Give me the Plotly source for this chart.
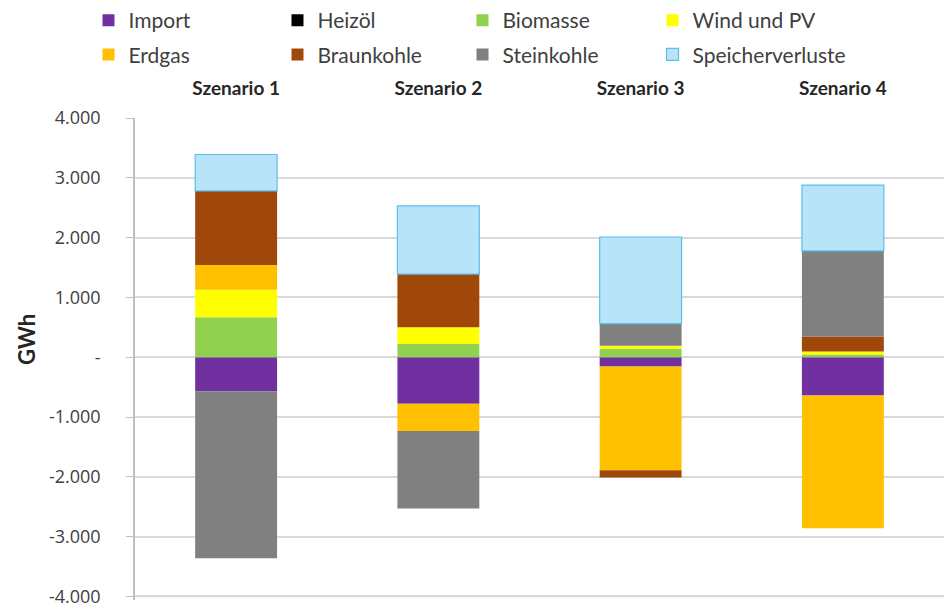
import plotly.graph_objects as go

scenarios = ["Szenario 1", "Szenario 2", "Szenario 3", "Szenario 4"]

import_vals = [-570, -780, -155, -640]
heizoel_vals = [0, 0, 0, 0]
biomasse_vals = [670, 220, 140, 45]
wind_pv_vals = [460, 280, 50, 50]
erdgas_vals = [410, -455, -1735, -2220]
braunkohle_vals = [1240, 890, -120, 250]
steinkohle_vals = [-2790, -1295, 370, 1433]
speicher_vals = [610, 1140, 1450, 1100]

y_ticks = [4000, 3000, 2000, 1000, 0, -1000, -2000, -3000, -4000]
y_tick_labels = ["4.000", "3.000", "2.000", "1.000", "-", "-1.000", "-2.000", "-3.000", "-4.000"]

# (name, values, fill, outline, legend column)
series = [
    ("Import", import_vals, "#7030A0", "#7030A0", "legend"),
    ("Heizöl", heizoel_vals, "#000000", "#000000", "legend2"),
    ("Biomasse", biomasse_vals, "#92D050", "#92D050", "legend3"),
    ("Wind und PV", wind_pv_vals, "#FFFF00", "#FFFF00", "legend4"),
    ("Erdgas", erdgas_vals, "#FFC000", "#FFC000", "legend"),
    ("Braunkohle", braunkohle_vals, "#A0480A", "#A0480A", "legend2"),
    ("Steinkohle", steinkohle_vals, "#808080", "#808080", "legend3"),
    ("Speicherverluste", speicher_vals, "#B7E4F8", "#5BC0E8", "legend4"),
]

fig = go.Figure()
for name, vals, color, line, leg in series:
    fig.add_trace(go.Bar(
        x=scenarios, y=vals, name=name, legend=leg, legendgroup=name,
        marker=dict(color=color, line=dict(color=line, width=1.2 if name == "Speicherverluste" else 0)),
        width=0.405,
    ))

font_family = "Lato, 'Open Sans', sans-serif"
tick_family = "'Open Sans', Lato, sans-serif"
grid_color = "#D9D9D9"


def legend_col(x_px):
    return dict(
        orientation="v", xref="container", yref="container",
        x=x_px / 944, xanchor="left", y=1 - 37.5 / 608, yanchor="middle",
        font=dict(family=font_family, size=21, color="#404040"),
        bgcolor="rgba(0,0,0,0)", traceorder="grouped", tracegroupgap=4,
    )


# bottom gridline (plotly skips the gridline at the range edge)
fig.add_shape(type="line", xref="paper", yref="y", x0=0, x1=1,
              y0=y_ticks[-1], y1=y_ticks[-1],
              line=dict(color=grid_color, width=1.5), layer="below")

fig.update_layout(
    width=944, height=608,
    margin=dict(l=135, r=0, t=118, b=8, autoexpand=False),
    barmode="relative",
    plot_bgcolor="white", paper_bgcolor="white",
    font=dict(family=font_family, color="#404040"),
    legend=legend_col(88.5),
    legend2=legend_col(277.5),
    legend3=legend_col(462.5),
    legend4=legend_col(652.5),
    xaxis=dict(
        side="top", showgrid=False, showline=False, ticks="",
        tickfont=dict(family=font_family, size=19, color="#262626", weight="bold"),
        range=[-0.5, 3.5],
        ticklabelstandoff=18,
    ),
    yaxis=dict(
        range=[-4060, 4000], tickvals=y_ticks, ticktext=y_tick_labels,
        showgrid=True, gridcolor=grid_color, gridwidth=1.5,
        showline=True, linecolor="#BFBFBF", linewidth=1.5,
        ticks="outside", ticklen=7, tickcolor="#BFBFBF",
        tickfont=dict(family=tick_family, size=18, color="#404040"),
        ticklabelstandoff=22, ticklabeloverflow="allow",
        zeroline=False,
    ),
    annotations=[dict(
        text="<b>GWh</b>", xref="paper", yref="paper",
        x=-(135 - 26) / 809, y=(608 - 8 - 340) / 482,
        textangle=-90, showarrow=False, xanchor="center", yanchor="middle",
        font=dict(family=font_family, size=22, color="#262626"),
    )],
)

fig.write_html("out.html")
